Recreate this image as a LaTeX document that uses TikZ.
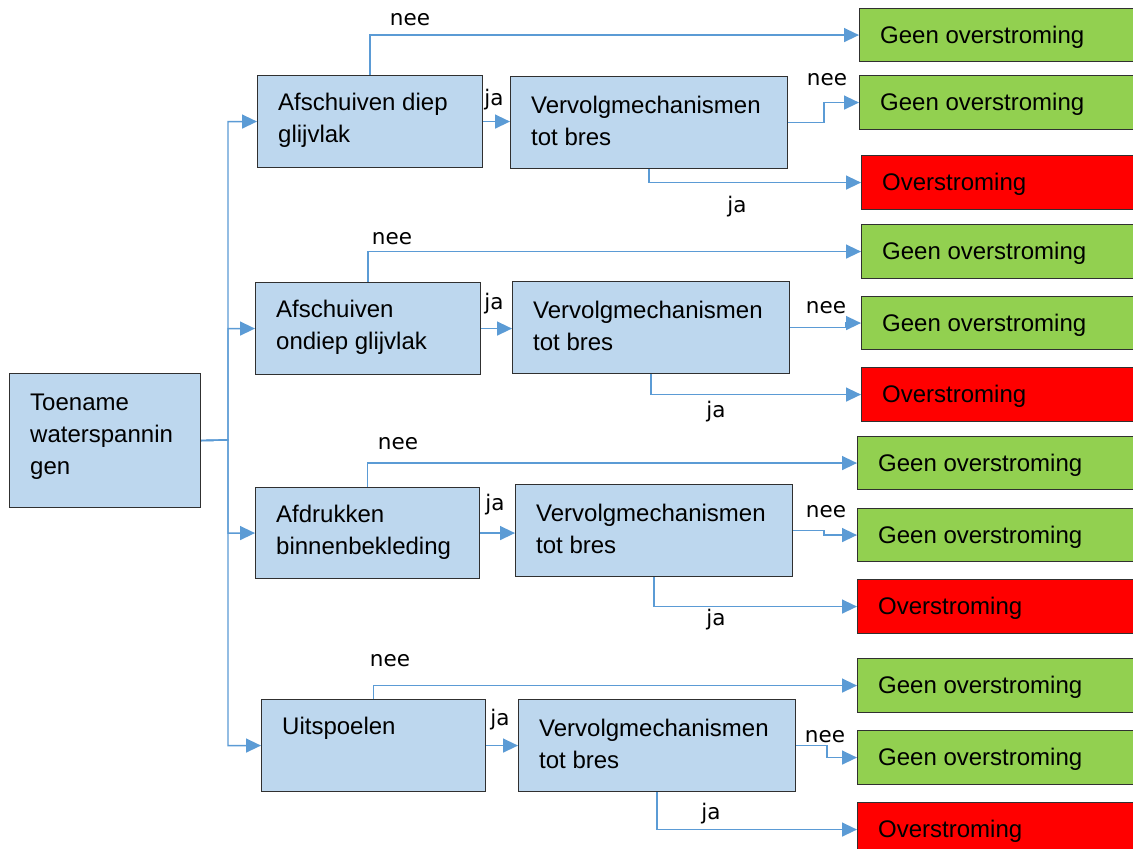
\documentclass[tikz,border=0pt]{standalone}
\usepackage{fontspec}
\setmainfont{Liberation Sans}
\newfontfamily\labfont{DejaVu Sans}
\usetikzlibrary{arrows.meta}
\definecolor{bfill}{HTML}{BDD7EE}
\definecolor{gfill}{HTML}{92D050}
\definecolor{rfill}{HTML}{FF0000}
\definecolor{conn}{HTML}{5B9BD5}
\definecolor{edge}{HTML}{303030}
\tikzset{
  boxbase/.style={draw=edge, line width=1.1pt, inner sep=0pt, anchor=north west},
  bluebox/.style={boxbase, fill=bfill},
  greenbox/.style={boxbase, fill=gfill},
  redbox/.style={boxbase, fill=rfill},
  btxt/.style={anchor=north west, align=left, inner sep=0pt, font=\fontsize{24}{32}\selectfont},
  rtxt/.style={anchor=west, inner sep=0pt, font=\fontsize{24}{30}\selectfont},
  lab/.style={inner sep=0pt, font=\labfont\fontsize{21.5}{26}\selectfont},
  link/.style={draw=conn, line width=1.4pt, -{Triangle[length=15pt,width=14pt]}},
}
\newcommand\mkbox[6]{\node[#2, minimum width={(#5-#3)*1pt}, minimum height={(#6-#4)*1pt}] (#1) at (#3,#4) {};}
\begin{document}
\begin{tikzpicture}[x=1pt,y=-1pt]
\clip (0,0) rectangle (1133,849);
\fill[white] (0,0) rectangle (1133,849);
% main
\mkbox{t}{bluebox}{9}{373}{200}{507}
\node[btxt] at ([xshift=21pt,yshift=-21pt]t.north west) {Toename\\waterspannin\\gen};
% branch 1
\mkbox{a1}{bluebox}{257}{75}{482}{167}
\mkbox{v1}{bluebox}{510}{76}{787}{168}
\mkbox{g11}{greenbox}{859}{8}{1140}{61}
\mkbox{g12}{greenbox}{859}{75}{1140}{129}
\mkbox{r1}{redbox}{861}{155}{1140}{209}
% branch 2
\mkbox{a2}{bluebox}{255}{282}{480}{374}
\mkbox{v2}{bluebox}{512}{281}{789}{373}
\mkbox{g21}{greenbox}{861}{224}{1140}{278}
\mkbox{g22}{greenbox}{861}{296}{1140}{349}
\mkbox{r2}{redbox}{861}{367}{1140}{421}
% branch 3
\mkbox{a3}{bluebox}{255}{487}{479}{578}
\mkbox{v3}{bluebox}{515}{484}{792}{576}
\mkbox{g31}{greenbox}{857}{436}{1140}{489}
\mkbox{g32}{greenbox}{857}{508}{1140}{561}
\mkbox{r3}{redbox}{857}{579}{1140}{633}
% branch 4
\mkbox{a4}{bluebox}{261}{699}{485}{791}
\mkbox{v4}{bluebox}{518}{699}{795}{791}
\mkbox{g41}{greenbox}{857}{658}{1140}{712}
\mkbox{g42}{greenbox}{857}{730}{1140}{784}
\mkbox{r4}{redbox}{857}{802}{1140}{856}
% texts
\node[btxt] at ([xshift=21pt,yshift=-18pt]a1.north west) {Afschuiven diep\\glijvlak};
\node[btxt] at ([xshift=21pt,yshift=-18pt]a2.north west) {Afschuiven\\ondiep glijvlak};
\node[btxt] at ([xshift=21pt,yshift=-18pt]a3.north west) {Afdrukken\\binnenbekleding};
\node[btxt] at ([xshift=21pt,yshift=-18pt]a4.north west) {Uitspoelen};
\foreach \v in {v1,v2,v3,v4}{
  \node[btxt] at ([xshift=21pt,yshift=-20pt]\v.north west) {Vervolgmechanismen\\tot bres};
}
\foreach \g in {g11,g12,g21,g22,g31,g32,g41,g42}{
  \node[rtxt] at ([xshift=21pt,yshift=-2pt]\g.west) {Geen overstroming};
}
\foreach \r in {r1,r2,r3,r4}{
  \node[rtxt] at ([xshift=21pt,yshift=-2pt]\r.west) {Overstroming};
}
% trunk
\coordinate (tr) at (228,440);
\draw[link] (t.east) -- (tr) |- (a1.west);
\draw[link] (t.east) -- (tr) |- (a2.west);
\draw[link] (t.east) -- (tr) |- (a3.west);
\draw[link] (t.east) -- (tr) |- (a4.west);
% branch links
\foreach \i/\vx in {1/36,2/56,3/31,4/31}{
  \draw[link] (a\i.north) |- (g\i1.west);
  \draw[link] (a\i.east) -- (a\i.east -| v\i.west);
  \draw[link] (v\i.east) -- ++(\vx pt,0) |- (g\i2.west);
  \draw[link] (v\i.south) |- (r\i.west);
}
% labels
\node[lab] at (410,20) {nee};
\node[lab] at (494,100) {ja};
\node[lab] at (827,80) {nee};
\node[lab] at (737,207) {ja};
\node[lab] at (392,239) {nee};
\node[lab] at (494,304) {ja};
\node[lab] at (826,308) {nee};
\node[lab] at (716,412) {ja};
\node[lab] at (398,444) {nee};
\node[lab] at (495,505) {ja};
\node[lab] at (826,512) {nee};
\node[lab] at (716,620) {ja};
\node[lab] at (390,661) {nee};
\node[lab] at (500,720) {ja};
\node[lab] at (825,737) {nee};
\node[lab] at (711,814) {ja};
\end{tikzpicture}
\end{document}
